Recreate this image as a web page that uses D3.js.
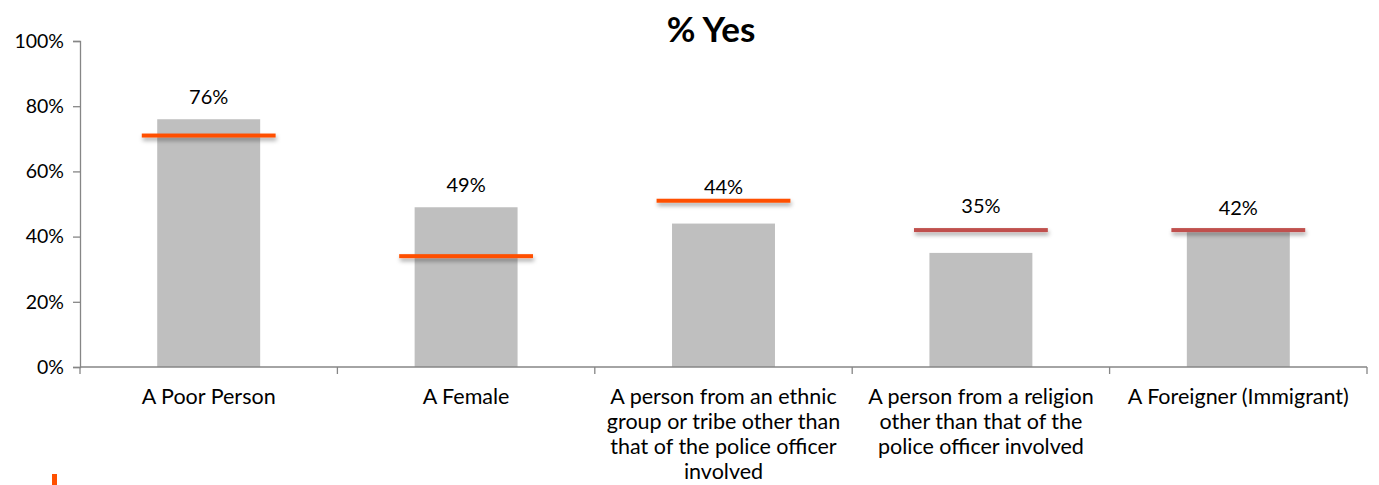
<!DOCTYPE html>
<html>
<head>
<meta charset="utf-8">
<script src="https://cdn.jsdelivr.net/npm/d3@7"></script>
<style>
  html, body { margin: 0; padding: 0; background: #fff; }
  svg { display: block; font-family: Lato, "Open Sans", sans-serif; }
</style>
</head>
<body>
<svg id="chart" width="1379" height="485"></svg>
<script>
const categories = [
  "A Poor Person",
  "A Female",
  "A person from an ethnic group or tribe other than that of the police officer involved",
  "A person from a religion other than that of the police officer involved",
  "A Foreigner (Immigrant)"
];
const yesValues = [76, 49, 44, 35, 42];
const benchmarkValues = [71, 34, 51, 42, 42];
const benchmarkGroup = ["a", "a", "a", "b", "b"];
const yTicks = [0, 20, 40, 60, 80, 100];
const title = "% Yes";

const svg = d3.select("#chart");
const plotBottom = 367;

const x = d3.scaleBand().domain(categories).range([80, 1367]).paddingInner(0).paddingOuter(0);
const y = d3.scaleLinear().domain([0, 100]).range([plotBottom, 41]);

const defs = svg.append("defs");
const f = defs.append("filter").attr("id", "shadow").attr("filterUnits", "userSpaceOnUse")
  .attr("x", 0).attr("y", 0).attr("width", 1379).attr("height", 485);
f.append("feDropShadow").attr("dx", 1).attr("dy", 3).attr("stdDeviation", 2).attr("flood-color", "#000").attr("flood-opacity", 0.35);

// Title
svg.append("text").attr("x", 711).attr("y", 42).attr("text-anchor", "middle")
  .attr("font-size", 35).attr("font-weight", "bold").attr("fill", "#000").text(title);

// Bars
const barW = x.bandwidth() * 0.4;
svg.append("g").selectAll("rect").data(categories).join("rect")
  .attr("x", (d) => x(d) + x.bandwidth() / 2 - barW / 2)
  .attr("y", (d, i) => y(yesValues[i]))
  .attr("width", barW)
  .attr("height", (d, i) => plotBottom - y(yesValues[i]))
  .attr("fill", "#BFBFBF");

// Y axis
const yAxis = svg.append("g").attr("transform", "translate(80,0)")
  .call(d3.axisLeft(y).tickValues(yTicks).tickFormat(d => d + "%").tickSize(7).tickPadding(9));
yAxis.select(".domain").attr("stroke", "#868686").attr("stroke-width", 1.3);
yAxis.selectAll(".tick line").attr("stroke", "#868686").attr("stroke-width", 1.3);
yAxis.selectAll(".tick text").attr("font-size", 19.5).attr("fill", "#000").attr("font-family", "Lato");

// X axis
const xg = svg.append("g");
xg.append("line").attr("x1", 80).attr("x2", 1367).attr("y1", plotBottom).attr("y2", plotBottom)
  .attr("stroke", "#868686").attr("stroke-width", 1.3);
const boundaries = categories.map(c => x(c)).concat([x(categories[categories.length - 1]) + x.bandwidth()]);
xg.selectAll("line.tk").data(boundaries).join("line").attr("class", "tk")
  .attr("x1", d => d).attr("x2", d => d).attr("y1", plotBottom).attr("y2", plotBottom + 7)
  .attr("stroke", "#868686").attr("stroke-width", 1.3);

// Category labels with wrapping
const maxW = 245;
const lineH = 25;
categories.forEach((c, i) => {
  const cx = x(c) + x.bandwidth() / 2;
  const t = xg.append("text").attr("x", cx).attr("y", 404).attr("text-anchor", "middle")
    .attr("font-size", 21.5).attr("fill", "#000");
  const words = c.split(" ");
  let line = [];
  let tspan = t.append("tspan").attr("x", cx).attr("dy", 0);
  words.forEach(w => {
    line.push(w);
    tspan.text(line.join(" "));
    if (tspan.node().getComputedTextLength() > maxW && line.length > 1) {
      line.pop();
      tspan.text(line.join(" "));
      line = [w];
      tspan = t.append("tspan").attr("x", cx).attr("dy", lineH).text(w);
    }
  });
});

// Benchmark markers
const colors = { a: "#FF5000", b: "#C0504D" };
const mW = x.bandwidth() * 0.52;
svg.append("g").selectAll("rect").data(categories).join("rect")
  .attr("x", d => x(d) + x.bandwidth() / 2 - mW / 2)
  .attr("width", mW)
  .attr("y", (d, i) => y(benchmarkValues[i]) - 2)
  .attr("height", 4)
  .attr("fill", (d, i) => colors[benchmarkGroup[i]])
  .attr("filter", "url(#shadow)");

// Value labels
const nudge = [0, 0, 8, -2, 0];
svg.append("g").selectAll("text").data(categories).join("text")
  .attr("x", d => x(d) + x.bandwidth() / 2)
  .attr("y", (d, i) => Math.min(y(yesValues[i]), y(benchmarkValues[i])) - 22 + nudge[i] + 7)
  .attr("text-anchor", "middle").attr("font-size", 20).attr("fill", "#000")
  .text((d, i) => yesValues[i] + "%");

// Partial legend mark at bottom-left
svg.append("rect").attr("x", 52).attr("y", 474).attr("width", 5).attr("height", 12).attr("fill", "#FF5000");
</script>
</body>
</html>
